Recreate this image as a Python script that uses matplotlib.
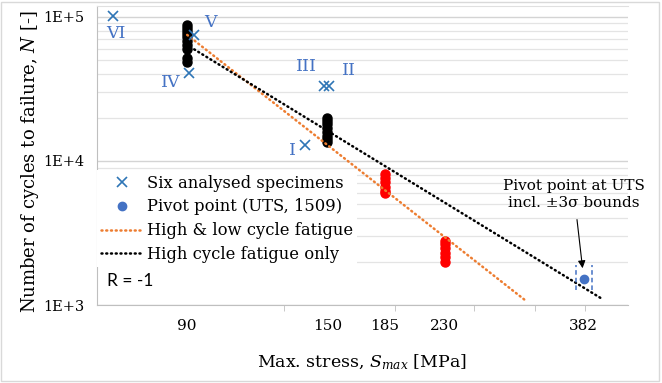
import numpy as np
import matplotlib.pyplot as plt
from matplotlib.patches import Rectangle
from matplotlib.ticker import NullFormatter

plt.rcParams['font.family'] = ['DejaVu Serif']
plt.rcParams['mathtext.fontset'] = 'custom'
plt.rcParams['mathtext.rm'] = 'DejaVu Serif'
plt.rcParams['mathtext.it'] = 'DejaVu Serif:italic'

# six analysed specimens (stress MPa, cycles)
spec_names = ['I', 'II', 'III', 'IV', 'V', 'VI']
spec_S = [138.4, 151, 148, 90.7, 92.3, 68.8]
spec_N = [12900, 33200, 33200, 40800, 75000, 102000]
# label offsets (points) for the roman numerals
spec_off = [(-9, -4), (14, 11), (-12, 14), (-13, -7), (12, 9), (2, -13)]

# test clusters
black_S = [90] * 10 + [150] * 8
black_N = [88000, 84000, 80000, 76000, 72000, 68000, 64000, 60000, 52000, 49000,
           20000, 19000, 18000, 17000, 16000, 15000, 14300, 13600]
red_S = [185] * 6 + [230] * 6
red_N = [8100, 7600, 7100, 6600, 6200, 6000, 2780, 2650, 2500, 2300, 2150, 2000]

# pivot point at UTS
S_uts = 382
N_uts = 1509
S_3sig = 11

# fitted lines (end points)
hl_S = [90, 308]
hl_N = [75000, 1085]
hc_S = [91, 408.6]
hc_N = [61900, 1100]

tick_S = [90, 150, 185, 230, 382]

spec_col = '#2E75B6'
lab_col = '#4472C4'

fig = plt.figure(figsize=(6.62, 3.83), dpi=100)
fig.patches.append(Rectangle((0.002, 0.004), 0.9935, 0.99, transform=fig.transFigure,
                             fill=False, edgecolor='#d9d9d9', lw=1))
ax = fig.add_axes([97 / 662, 1 - 305 / 383, (628 - 97) / 662, (305 - 6) / 383])
ax.set_xscale('log')
ax.set_yscale('log')
ax.set_xlim(64.8, 448.7)
ax.set_ylim(1e3, 1.19e5)

dots = (0, (0.4, 1.5))
ax.plot(hl_S, hl_N, color='#ED7D31', lw=1.8, ls=dots, dash_capstyle='round',
        label='High & low cycle fatigue', zorder=3)
ax.plot(hc_S, hc_N, color='black', lw=1.8, ls=dots, dash_capstyle='round',
        label='High cycle fatigue only', zorder=3)
ax.plot(black_S, black_N, 'o', color='black', ms=6.5, zorder=2)
ax.plot(red_S, red_N, 'o', color='#FF0000', ms=6.5, zorder=2)
ax.plot(spec_S, spec_N, 'x', color=spec_col, ms=7, mew=1.2, ls='none',
        label='Six analysed specimens', zorder=4)
ax.plot([S_uts], [N_uts], 'o', color=lab_col, ms=6, ls='none',
        label='Pivot point (UTS, 1509)', zorder=4)
ax.vlines([S_uts - S_3sig, S_uts + S_3sig], N_uts / 1.19, N_uts * 1.25,
          colors=lab_col, lw=1.1, linestyles=(0, (3, 2)), zorder=4)

for name, s, n, off in zip(spec_names, spec_S, spec_N, spec_off):
    ax.annotate(name, (s, n), xytext=off, textcoords='offset points',
                ha='center', va='center', color=lab_col, fontsize=12.5)

ax.annotate('Pivot point at UTS\nincl. \u00b13\u03c3 bounds', (S_uts, N_uts),
            xytext=(-7, 61), textcoords='offset points', ha='center', va='center',
            fontsize=11, linespacing=1.25,
            arrowprops=dict(arrowstyle='-|>', color='black', lw=0.8,
                            mutation_scale=11, shrinkA=5, shrinkB=8))

ax.text(0.019, 0.08, 'R = -1', transform=ax.transAxes, family='Lato',
        fontsize=12.5, va='center', ha='left')

# axes, ticks, grid
ax.set_yticks([1e3, 1e4, 1e5])
ax.set_yticklabels(['1E+3', '1E+4', '1E+5'])
ax.set_yticks([k * 10 ** e for e in (3, 4) for k in range(2, 10)], minor=True)
ax.yaxis.set_minor_formatter(NullFormatter())
ax.tick_params(axis='y', which='both', length=0, labelsize=10.5, pad=9)

ax.set_xticks(tick_S)
ax.set_xticklabels([str(s) for s in tick_S])
ax.set_xticks([128, 192, 256, 320, 384], minor=True)
ax.xaxis.set_minor_formatter(NullFormatter())
ax.tick_params(axis='x', which='major', length=0, labelsize=11, pad=10)
ax.tick_params(axis='x', which='minor', length=4, color='#bfbfbf', direction='out')

ax.grid(axis='y', which='major', color='#d4d4d4', lw=1.0)
ax.grid(axis='y', which='minor', color='#e4e4e4', lw=0.9)
ax.set_axisbelow(True)

for side in ['left', 'bottom']:
    ax.spines[side].set_color('#bfbfbf')
ax.spines['top'].set_color('#e0e0e0')
ax.spines['right'].set_visible(False)

ax.set_ylabel('Number of cycles to failure, $N$ [-]', fontsize=13, va='center')
ax.yaxis.set_label_coords(-0.126, 0.478)
ax.set_xlabel('Max. stress, $S_{max}$ [MPa]', fontsize=12.5, va='center')
ax.xaxis.set_label_coords(0.499, -0.191)

handles, labels = ax.get_legend_handles_labels()
order = [2, 3, 0, 1]
leg = ax.legend([handles[i] for i in order], [labels[i] for i in order],
                loc='upper left', bbox_to_anchor=(0.0, 0.45), frameon=True,
                fancybox=False, edgecolor='none', facecolor='white', framealpha=1,
                fontsize=11.8, borderaxespad=0, borderpad=0.25, handlelength=2.5,
                handletextpad=0.3, labelspacing=0.42)

fig.savefig('out.png', dpi=100)
